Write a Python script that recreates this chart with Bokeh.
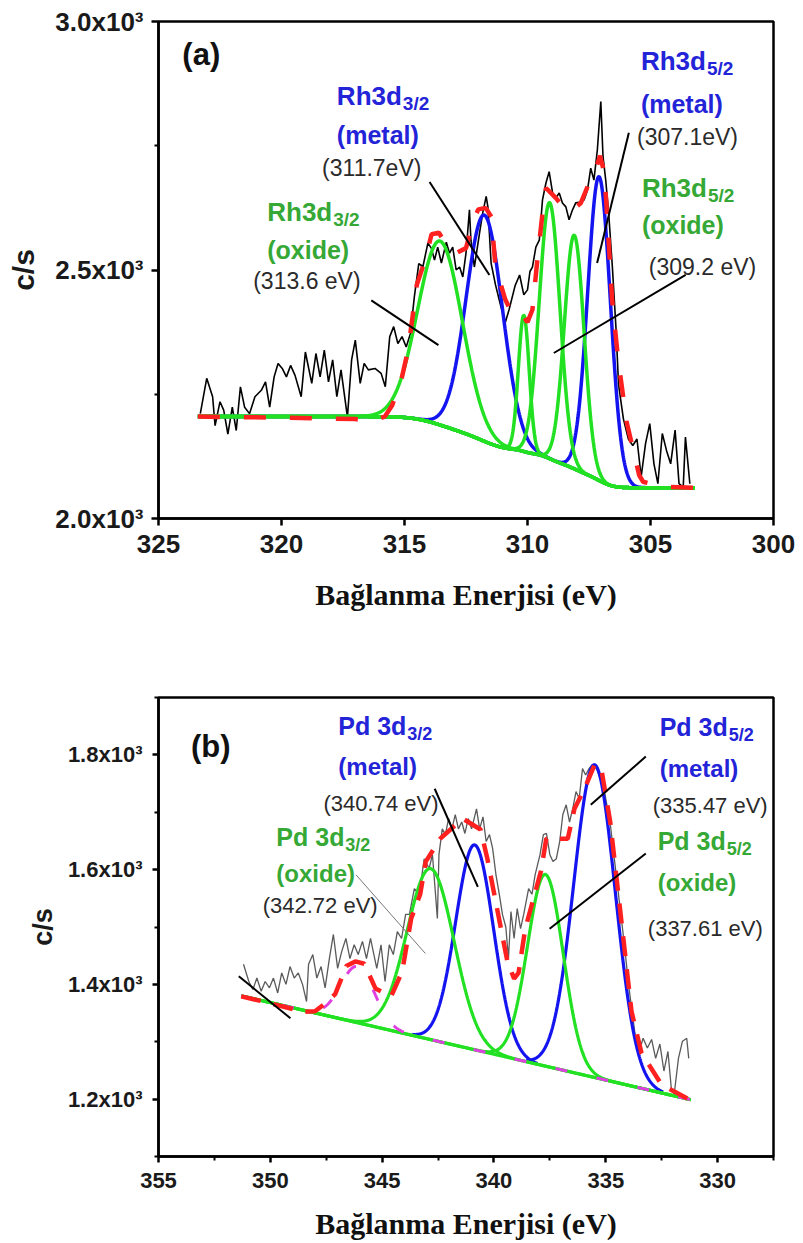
import numpy as np
from bokeh.plotting import figure
from bokeh.models import Range1d, FixedTicker, Label
from bokeh.layouts import column
from bokeh.embed import file_html
from bokeh.resources import INLINE

# ===================== Panel (a) : Rh 3d =====================
a_exp_ev = [323.30, 323.04, 322.80, 322.70, 322.50, 322.35, 322.18, 322.00, 321.84, 321.67,
            321.50, 321.30, 321.08, 320.82, 320.65, 320.48, 320.30, 320.14, 319.97, 319.80,
            319.63, 319.45, 319.20, 319.03, 318.77, 318.60, 318.43, 318.26, 318.09, 317.92,
            317.75, 317.58, 317.32, 317.15, 317.00, 316.80, 316.64, 316.47, 316.20, 315.95,
            315.78, 315.60, 315.44, 315.27, 315.10, 314.93, 314.76, 314.60, 314.42, 314.25,
            314.05, 313.91, 313.78, 313.65, 313.50, 313.30, 313.17, 313.04, 312.90, 312.76,
            312.63, 312.50, 312.36, 312.30, 312.16, 311.95, 311.82, 311.68, 311.61, 311.48,
            311.30, 311.10, 310.90, 310.75, 310.50, 310.32, 310.15, 310.00, 309.90, 309.80,
            309.66, 309.52, 309.39, 309.25, 309.12, 308.98, 308.85, 308.71, 308.58, 308.44,
            308.31, 308.17, 308.04, 307.83, 307.70, 307.56, 307.43, 307.30, 307.16, 307.02,
            306.93, 306.82, 306.69, 306.55, 306.40, 306.30, 306.10, 305.90, 305.72, 305.55,
            305.38, 305.20, 305.03, 304.86, 304.70, 304.52, 304.35, 304.18, 304.00, 303.84,
            303.67, 303.58, 303.40]
a_exp_cps = [2211, 2282, 2245, 2187, 2235, 2218, 2170, 2224, 2177, 2265,
             2224, 2211, 2245, 2258, 2275, 2224, 2285, 2312, 2302, 2285,
             2308, 2288, 2245, 2335, 2272, 2332, 2285, 2339, 2275, 2319,
             2245, 2299, 2204, 2319, 2359, 2272, 2312, 2299, 2302, 2292,
             2265, 2366, 2386, 2352, 2366, 2345, 2372, 2446, 2513, 2507,
             2554, 2544, 2520, 2546, 2514, 2556, 2534, 2546, 2500, 2506,
             2486, 2534, 2621, 2560, 2506, 2574, 2615, 2648, 2627, 2514,
             2470, 2430, 2395, 2420, 2469, 2490, 2450, 2460, 2497, 2506,
             2546, 2560, 2641, 2675, 2698, 2655, 2645, 2655, 2635, 2627,
             2601, 2621, 2635, 2637, 2641, 2661, 2705, 2681, 2742, 2839,
             2728, 2681, 2607, 2506, 2380, 2270, 2200, 2160, 2147, 2160,
             2084, 2151, 2191, 2110, 2070, 2171, 2137, 2110, 2178, 2070,
             2063, 2164, 2070]

# cumulative fit envelope (red dashed)
a_fit_ev = [323.4, 320.0, 317.0, 316.3, 315.8, 315.5, 315.1, 314.85, 314.5, 314.26,
            314.06, 313.9, 313.6, 313.37, 313.1, 312.9, 312.5, 312.2, 312.0, 311.7,
            311.47, 311.3, 310.9, 310.6, 310.3, 310.15, 310.0, 309.8, 309.6, 309.4,
            309.25, 308.85, 308.44, 308.17, 307.83, 307.5, 307.23, 307.05, 306.9, 306.8,
            306.56, 306.32, 305.97, 305.46, 305.3, 304.5, 303.2]
a_fit_cps = [2205, 2203, 2200, 2196, 2205, 2228, 2285, 2340, 2470, 2506,
             2540, 2572, 2575, 2556, 2540, 2534, 2544, 2600, 2622, 2625,
             2607, 2506, 2440, 2410, 2400, 2405, 2395, 2420, 2520, 2610,
             2665, 2645, 2620, 2621, 2635, 2675, 2702, 2730, 2700, 2640,
             2440, 2322, 2194, 2087, 2074, 2064, 2062]

# fitted components (centre eV, height above background c/s, sigma eV)
a_peak_center = [313.55, 311.75, 310.15, 309.10, 308.10, 307.09]
a_peak_height = [370, 455, 274, 515, 470, 611]
a_peak_sigma = [0.90, 0.74, 0.22, 0.42, 0.40, 0.46]
a_peak_state = ["oxide", "metal", "oxide", "oxide", "oxide", "metal"]
# Shirley background end levels
a_bg_ev = [323.4, 303.2]
a_bg_cps = [2205, 2062]

a_xticks = [325, 320, 315, 310, 305, 300]
a_yticks = [2000, 2500, 3000]
a_yminor = [2250, 2750]
a_ylabels = {2000: "2.0x10³", 2500: "2.5x10³", 3000: "3.0x10³"}

# annotation pointer lines (eV, c/s)
a_ptr_x0 = [313.98, 305.88, 303.57, 316.35]
a_ptr_y0 = [2677, 2776, 2490, 2439]
a_ptr_x1 = [311.55, 307.17, 308.93, 313.62]
a_ptr_y1 = [2490, 2514, 2333, 2349]

# ===================== Panel (b) : Pd 3d =====================
b_exp_ev = [351.20, 350.96, 350.78, 350.60, 350.41, 350.23, 350.04, 349.86, 349.67, 349.49,
            349.30, 349.12, 348.93, 348.75, 348.56, 348.38, 348.29, 348.10, 347.92, 347.73,
            347.55, 347.36, 347.18, 346.99, 346.81, 346.62, 346.44, 346.25, 346.07, 345.88,
            345.70, 345.52, 345.24, 345.05, 344.87, 344.68, 344.50, 344.32, 344.13, 343.95,
            343.78, 343.56, 343.34, 343.12, 342.90, 342.75, 342.53, 342.46, 342.31, 342.17,
            342.03, 341.88, 341.73, 341.59, 341.44, 341.30, 341.15, 341.00, 340.78, 340.64,
            340.49, 340.35, 340.20, 340.06, 339.91, 339.76, 339.62, 339.47, 339.35, 339.24,
            339.10, 338.96, 338.81, 338.67, 338.45, 338.30, 338.16, 337.94, 337.79, 337.65,
            337.50, 337.36, 337.21, 337.06, 336.92, 336.77, 336.62, 336.48, 336.33, 336.19,
            336.04, 335.90, 335.75, 335.60, 335.40, 335.10, 334.80, 334.50, 334.20, 333.95,
            333.69, 333.51, 333.33, 333.14, 332.95, 332.77, 332.58, 332.40, 332.22, 332.07,
            331.94, 331.75, 331.57, 331.38, 331.29]
b_exp_cps = [1435, 1405, 1391, 1411, 1388, 1405, 1394, 1411, 1385, 1420,
             1400, 1431, 1411, 1420, 1400, 1370, 1435, 1452, 1411, 1431,
             1394, 1445, 1487, 1428, 1457, 1480, 1445, 1469, 1452, 1475,
             1445, 1480, 1428, 1469, 1405, 1469, 1452, 1492, 1480, 1522,
             1522, 1567, 1557, 1619, 1602, 1626, 1515, 1626, 1671, 1661,
             1689, 1671, 1696, 1671, 1683, 1663, 1689, 1671, 1706, 1671,
             1692, 1649, 1661, 1637, 1591, 1557, 1522, 1500, 1445, 1527,
             1480, 1532, 1497, 1522, 1567, 1557, 1591, 1626, 1661, 1663,
             1626, 1614, 1619, 1649, 1696, 1713, 1683, 1706, 1736, 1724,
             1776, 1765, 1776, 1783, 1775, 1745, 1680, 1580, 1480, 1390,
             1313, 1283, 1306, 1289, 1304, 1271, 1296, 1249, 1283, 1219,
             1209, 1271, 1301, 1306, 1271]

b_fit_ev = [351.3, 350.3, 349.4, 348.5, 348.0, 347.5, 347.1, 346.6, 346.2, 345.8,
            345.3, 344.6, 344.1, 343.7, 343.3, 343.05, 342.4, 341.4, 340.6, 340.3,
            340.0, 339.7, 339.4, 339.1, 338.9, 338.6, 337.9, 337.66, 336.7, 336.4,
            335.95, 335.5, 335.2, 334.8, 334.2, 333.85, 333.4, 332.5, 331.2]
b_fit_cps = [1379, 1370, 1361, 1352, 1353, 1368, 1383, 1432, 1440, 1436,
             1393, 1379, 1423, 1515, 1557, 1614, 1654, 1689, 1670, 1620,
             1560, 1500, 1440, 1410, 1420, 1497, 1597, 1654, 1654, 1706,
             1741, 1783, 1776, 1683, 1475, 1353, 1280, 1225, 1198]

b_peak_center = [342.83, 340.86, 337.70, 335.50]
b_peak_height = [298, 357, 334, 545]
b_peak_sigma = [1.05, 0.85, 0.80, 0.93]
b_peak_state = ["oxide", "metal", "oxide", "metal"]
# small extra component (magenta, dashed)
b_extra_center = [346.1]
b_extra_height = [98]
b_extra_sigma = [0.75]
# linear background end points
b_bg_ev = [351.3, 331.2]
b_bg_cps = [1380, 1199]

b_xticks = [355, 350, 345, 340, 335, 330]
b_xminor = [352.5, 347.5, 342.5, 337.5, 332.5, 327.5]
b_yticks = [1200, 1400, 1600, 1800]
b_yminor = [1100, 1300, 1500, 1700, 1900]
b_ylabels = {1200: "1.2x10³", 1400: "1.4x10³", 1600: "1.6x10³", 1800: "1.8x10³"}

b_ptr_x0 = [342.65, 333.21, 333.21, 351.41]
b_ptr_y0 = [1741, 1797, 1628, 1414]
b_ptr_x1 = [340.72, 335.67, 337.51, 349.10]
b_ptr_y1 = [1570, 1713, 1497, 1341]
b_ptr2_x0 = [346.17]
b_ptr2_y0 = [1591]
b_ptr2_x1 = [343.07]
b_ptr2_y1 = [1454]

# ===================== styling =====================
BLUE = "#1414f0"
GREEN = "#22e022"
RED = "#ff2020"
MAGENTA = "#e040e0"
TXT_BLUE = "#2323d8"
TXT_GREEN = "#35a835"
SANS = "Liberation Sans"
SERIF = "Liberation Serif"


def gauss(x, c, h, s):
    return h * np.exp(-(x - c) ** 2 / (2.0 * s ** 2))


def style_axes(p, tick_size, lab_size, xt, xminor, yt, yminor, ylabels,
               tick_out, x_stand, y_stand, xlab_stand, ylab_stand):
    p.xgrid.visible = False
    p.ygrid.visible = False
    p.outline_line_color = "black"
    p.outline_line_width = 2.5
    p.background_fill_color = "white"
    p.border_fill_color = "white"
    p.xaxis.ticker = FixedTicker(ticks=xt, minor_ticks=xminor)
    p.yaxis.ticker = FixedTicker(ticks=yt, minor_ticks=yminor)
    p.yaxis.major_label_overrides = ylabels
    for ax in (p.xaxis, p.yaxis):
        ax.axis_line_width = 2.5
        ax.axis_line_color = "black"
        ax.major_tick_line_width = 2.5
        ax.minor_tick_line_width = 2
        ax.major_tick_out = tick_out
        ax.major_tick_in = 0
        ax.minor_tick_out = 4
        ax.minor_tick_in = 0
        ax.major_label_text_font = SANS
        ax.major_label_text_font_style = "bold"
        ax.major_label_text_font_size = tick_size
        ax.major_label_text_color = "#1a1a1a"
    p.xaxis.major_label_standoff = x_stand
    p.yaxis.major_label_standoff = y_stand
    p.xaxis.axis_label = "Bağlanma Enerjisi (eV)"
    p.xaxis.axis_label_text_font = SERIF
    p.xaxis.axis_label_text_font_style = "bold"
    p.xaxis.axis_label_text_font_size = "30px"
    p.xaxis.axis_label_text_color = "#111111"
    p.xaxis.axis_label_standoff = xlab_stand
    p.yaxis.axis_label = "c/s"
    p.yaxis.axis_label_text_font = SANS
    p.yaxis.axis_label_text_font_style = "bold"
    p.yaxis.axis_label_text_font_size = lab_size
    p.yaxis.axis_label_text_color = "#1a1a1a"
    p.yaxis.axis_label_standoff = ylab_stand


def add_text(p, x, y, txt, color, size, bold=True, sub=None, sub_dx=0, sub_size="19px"):
    p.add_layout(Label(x=x, y=y, text=txt, text_color=color, text_font=SANS,
                       text_font_size=size, text_font_style="bold" if bold else "normal",
                       text_baseline="middle", text_align="left"))
    if sub is not None:
        p.add_layout(Label(x=x, y=y, x_offset=sub_dx, y_offset=-8, text=sub,
                           text_color=color, text_font=SANS, text_font_size=sub_size,
                           text_font_style="bold", text_baseline="middle",
                           text_align="left"))


# ---------------- figure (a) ----------------
pa = figure(width=803, height=640, x_range=Range1d(325, 300), y_range=Range1d(2000, 3000),
            output_backend="svg", toolbar_location=None,
            min_border_left=158, min_border_right=28, min_border_top=21, min_border_bottom=122)
style_axes(pa, "26px", "30px", a_xticks, [], a_yticks, a_yminor, a_ylabels,
           7, 9, 8, 22, 12)

xa = np.linspace(a_bg_ev[0], a_bg_ev[1], 1200)
a_peaks = [gauss(xa, c, h, s) for c, h, s in zip(a_peak_center, a_peak_height, a_peak_sigma)]
a_tot = np.sum(a_peaks, axis=0)
a_cum = np.cumsum(a_tot[::-1])[::-1]
a_bg = a_bg_cps[1] + (a_bg_cps[0] - a_bg_cps[1]) * a_cum / a_cum[0]

pa.line(a_exp_ev, a_exp_cps, line_color="black", line_width=1.6)
for pk, st in zip(a_peaks, a_peak_state):
    if st == "metal":
        pa.line(xa, a_bg + pk, line_color=BLUE, line_width=3.5)
pa.line(xa, a_bg, line_color=GREEN, line_width=3.5)
for pk, st in zip(a_peaks, a_peak_state):
    if st == "oxide":
        pa.line(xa, a_bg + pk, line_color=GREEN, line_width=3.5)
pa.line(a_fit_ev, a_fit_cps, line_color=RED, line_width=4.5, line_dash="22 24")
pa.segment(x0=a_ptr_x0, y0=a_ptr_y0, x1=a_ptr_x1, y1=a_ptr_y1, line_color="black", line_width=2)

add_text(pa, 324.03, 2933, "(a)", "#111111", "31px")
add_text(pa, 317.75, 2851, "Rh3d", TXT_BLUE, "26px", sub="3/2", sub_dx=66)
add_text(pa, 317.75, 2772, "(metal)", TXT_BLUE, "25px")
add_text(pa, 318.35, 2706, "(311.7eV)", "#2a2a2a", "23px", bold=False)
add_text(pa, 320.58, 2617, "Rh3d", TXT_GREEN, "26px", sub="3/2", sub_dx=66)
add_text(pa, 320.58, 2540, "(oxide)", TXT_GREEN, "25px")
add_text(pa, 321.15, 2478, "(313.6 eV)", "#2a2a2a", "23px", bold=False)
add_text(pa, 305.39, 2921, "Rh3d", TXT_BLUE, "26px", sub="5/2", sub_dx=66)
add_text(pa, 305.39, 2833, "(metal)", TXT_BLUE, "25px")
add_text(pa, 305.55, 2768, "(307.1eV)", "#2a2a2a", "23px", bold=False)
add_text(pa, 305.35, 2665, "Rh3d", TXT_GREEN, "26px", sub="5/2", sub_dx=66)
add_text(pa, 305.35, 2591, "(oxide)", TXT_GREEN, "25px")
add_text(pa, 305.07, 2506, "(309.2 eV)", "#2a2a2a", "23px", bold=False)

# ---------------- figure (b) ----------------
pb = figure(width=803, height=603, x_range=Range1d(355, 327.5), y_range=Range1d(1100, 1900),
            output_backend="svg", toolbar_location=None,
            min_border_left=146, min_border_right=30, min_border_top=57, min_border_bottom=87)
style_axes(pb, "22px", "27px", b_xticks, b_xminor, b_yticks, b_yminor, b_ylabels,
           6, 10, 10, 16, 7)

xb = np.linspace(b_bg_ev[0], b_bg_ev[1], 1200)
b_bg = b_bg_cps[0] + (b_bg_cps[1] - b_bg_cps[0]) * (xb - b_bg_ev[0]) / (b_bg_ev[1] - b_bg_ev[0])
b_peaks = [gauss(xb, c, h, s) for c, h, s in zip(b_peak_center, b_peak_height, b_peak_sigma)]
b_extra = [gauss(xb, c, h, s) for c, h, s in zip(b_extra_center, b_extra_height, b_extra_sigma)]

pb.line(b_exp_ev, b_exp_cps, line_color="#5a5a5a", line_width=1.3)
for pk, st, c, s in zip(b_peaks, b_peak_state, b_peak_center, b_peak_sigma):
    if st == "metal":
        m = np.abs(xb - c) <= 3.3 * s
        pb.line(xb[m], (b_bg + pk)[m], line_color=BLUE, line_width=3.2)
pb.line(xb, b_bg, line_color=GREEN, line_width=3.2)
for pk, st in zip(b_peaks, b_peak_state):
    if st == "oxide":
        pb.line(xb, b_bg + pk, line_color=GREEN, line_width=3.2)
for pk in b_extra:
    pb.line(xb, b_bg + pk, line_color=MAGENTA, line_width=3, line_dash="12 30")
pb.line(b_fit_ev, b_fit_cps, line_color=RED, line_width=4.5, line_dash="20 13")
pb.segment(x0=b_ptr_x0, y0=b_ptr_y0, x1=b_ptr_x1, y1=b_ptr_y1, line_color="black", line_width=2)
pb.segment(x0=b_ptr2_x0, y0=b_ptr2_y0, x1=b_ptr2_x1, y1=b_ptr2_y1, line_color="#777777", line_width=1)

add_text(pb, 353.55, 1814, "(b)", "#111111", "31px")
add_text(pb, 346.96, 1850, "Pd 3d", TXT_BLUE, "25px", sub="3/2", sub_dx=69, sub_size="18px")
add_text(pb, 346.96, 1779, "(metal)", TXT_BLUE, "24px")
add_text(pb, 347.62, 1715, "(340.74 eV)", "#2a2a2a", "22px", bold=False)
add_text(pb, 349.73, 1657, "Pd 3d", TXT_GREEN, "25px", sub="3/2", sub_dx=69, sub_size="18px")
add_text(pb, 349.73, 1593, "(oxide)", TXT_GREEN, "24px")
add_text(pb, 350.34, 1537, "(342.72 eV)", "#2a2a2a", "22px", bold=False)
add_text(pb, 332.59, 1849, "Pd 3d", TXT_BLUE, "25px", sub="5/2", sub_dx=69, sub_size="18px")
add_text(pb, 332.59, 1776, "(metal)", TXT_BLUE, "24px")
add_text(pb, 332.90, 1711, "(335.47 eV)", "#2a2a2a", "22px", bold=False)
add_text(pb, 332.68, 1650, "Pd 3d", TXT_GREEN, "25px", sub="5/2", sub_dx=69, sub_size="18px")
add_text(pb, 332.68, 1577, "(oxide)", TXT_GREEN, "24px")
add_text(pb, 333.12, 1497, "(337.61 eV)", "#2a2a2a", "22px", bold=False)

layout = column(pa, pb, spacing=0)
open("out.html", "w").write(file_html(layout, INLINE))
